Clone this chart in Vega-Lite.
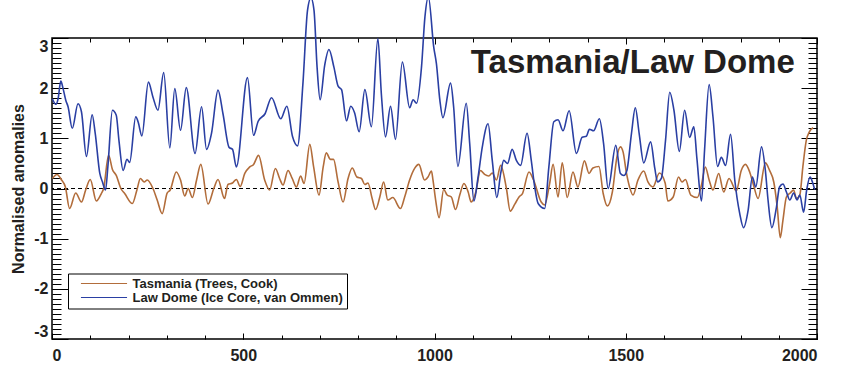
{
"$schema":"https://vega.github.io/schema/vega-lite/v6.json",
"width":765,"height":301,
"autosize":{"type":"none"},
"padding":{"left":52,"top":38,"right":28,"bottom":27},
"datasets":{
"one":[{"k":1}],
"tas":[{"year":1,"value":0.2},{"year":13,"value":0.28},{"year":25,"value":0.17},{"year":35,"value":0.03},{"year":46,"value":-0.4},{"year":62,"value":-0.09},{"year":77,"value":-0.27},{"year":88,"value":-0.03},{"year":100,"value":0.18},{"year":116,"value":-0.25},{"year":129,"value":-0.1},{"year":135,"value":0.0},{"year":148,"value":0.66},{"year":158,"value":0.38},{"year":168,"value":0.26},{"year":180,"value":0.0},{"year":190,"value":-0.1},{"year":210,"value":-0.3},{"year":222,"value":-0.03},{"year":231,"value":0.2},{"year":241,"value":0.13},{"year":249,"value":0.17},{"year":264,"value":0.0},{"year":275,"value":-0.23},{"year":288,"value":-0.5},{"year":301,"value":-0.09},{"year":309,"value":-0.03},{"year":325,"value":0.33},{"year":336,"value":0.17},{"year":347,"value":-0.15},{"year":356,"value":0.0},{"year":367,"value":-0.18},{"year":378,"value":0.17},{"year":389,"value":0.48},{"year":408,"value":-0.31},{"year":423,"value":0.0},{"year":434,"value":0.18},{"year":451,"value":-0.2},{"year":460,"value":0.08},{"year":472,"value":0.11},{"year":482,"value":0.18},{"year":492,"value":0.04},{"year":504,"value":0.3},{"year":517,"value":0.43},{"year":527,"value":0.48},{"year":540,"value":0.66},{"year":556,"value":0.17},{"year":569,"value":-0.03},{"year":584,"value":0.4},{"year":595,"value":0.2},{"year":604,"value":0.07},{"year":617,"value":0.36},{"year":628,"value":0.2},{"year":639,"value":0.03},{"year":650,"value":0.25},{"year":659,"value":0.1},{"year":674,"value":0.88},{"year":684,"value":0.43},{"year":698,"value":-0.13},{"year":709,"value":0.43},{"year":717,"value":0.71},{"year":728,"value":0.58},{"year":736,"value":0.58},{"year":748,"value":0.13},{"year":761,"value":-0.27},{"year":774,"value":0.2},{"year":785,"value":0.41},{"year":797,"value":0.23},{"year":809,"value":0.2},{"year":818,"value":0.08},{"year":826,"value":0.11},{"year":837,"value":-0.2},{"year":846,"value":-0.42},{"year":857,"value":-0.17},{"year":867,"value":0.13},{"year":878,"value":-0.23},{"year":891,"value":-0.18},{"year":911,"value":-0.4},{"year":922,"value":-0.17},{"year":935,"value":0.17},{"year":948,"value":0.4},{"year":959,"value":0.48},{"year":974,"value":0.17},{"year":983,"value":0.23},{"year":992,"value":0.35},{"year":996,"value":0.17},{"year":1003,"value":-0.23},{"year":1012,"value":-0.58},{"year":1024,"value":-0.02},{"year":1033,"value":-0.13},{"year":1044,"value":-0.17},{"year":1055,"value":-0.42},{"year":1066,"value":-0.13},{"year":1077,"value":0.1},{"year":1088,"value":-0.07},{"year":1096,"value":-0.27},{"year":1108,"value":-0.07},{"year":1120,"value":0.36},{"year":1131,"value":0.28},{"year":1142,"value":0.25},{"year":1151,"value":0.31},{"year":1162,"value":0.17},{"year":1173,"value":0.46},{"year":1188,"value":0.0},{"year":1198,"value":-0.45},{"year":1210,"value":-0.31},{"year":1221,"value":-0.17},{"year":1230,"value":-0.1},{"year":1247,"value":0.33},{"year":1259,"value":0.17},{"year":1279,"value":-0.27},{"year":1288,"value":-0.33},{"year":1301,"value":0.1},{"year":1310,"value":0.48},{"year":1323,"value":-0.17},{"year":1334,"value":0.51},{"year":1347,"value":-0.18},{"year":1362,"value":0.33},{"year":1375,"value":0.03},{"year":1392,"value":0.55},{"year":1404,"value":0.3},{"year":1414,"value":0.41},{"year":1430,"value":0.44},{"year":1441,"value":-0.1},{"year":1452,"value":-0.35},{"year":1465,"value":-0.07},{"year":1477,"value":0.63},{"year":1486,"value":0.83},{"year":1493,"value":0.73},{"year":1502,"value":0.3},{"year":1510,"value":0.03},{"year":1519,"value":-0.13},{"year":1532,"value":0.17},{"year":1547,"value":0.35},{"year":1558,"value":0.13},{"year":1571,"value":0.03},{"year":1588,"value":0.31},{"year":1603,"value":0.11},{"year":1610,"value":-0.25},{"year":1624,"value":-0.17},{"year":1638,"value":0.23},{"year":1647,"value":0.13},{"year":1656,"value":0.18},{"year":1670,"value":-0.13},{"year":1687,"value":-0.18},{"year":1698,"value":0.07},{"year":1708,"value":0.43},{"year":1718,"value":0.17},{"year":1728,"value":-0.03},{"year":1743,"value":0.3},{"year":1756,"value":-0.07},{"year":1770,"value":0.2},{"year":1789,"value":-0.05},{"year":1802,"value":0.36},{"year":1813,"value":0.48},{"year":1824,"value":0.33},{"year":1834,"value":0.07},{"year":1846,"value":-0.2},{"year":1865,"value":0.51},{"year":1876,"value":0.36},{"year":1887,"value":0.13},{"year":1896,"value":-0.37},{"year":1904,"value":-0.98},{"year":1911,"value":-0.63},{"year":1920,"value":-0.17},{"year":1930,"value":-0.09},{"year":1939,"value":-0.03},{"year":1946,"value":-0.2},{"year":1955,"value":-0.13},{"year":1963,"value":0.43},{"year":1972,"value":0.96},{"year":1980,"value":1.13},{"year":1990,"value":1.21}],
"law":[{"year":1,"value":1.79},{"year":10,"value":1.68},{"year":16,"value":1.79},{"year":23,"value":2.14},{"year":29,"value":1.99},{"year":36,"value":1.76},{"year":42,"value":1.63},{"year":53,"value":1.2},{"year":68,"value":1.69},{"year":77,"value":1.53},{"year":90,"value":0.64},{"year":105,"value":1.47},{"year":113,"value":1.1},{"year":125,"value":0.3},{"year":132,"value":0.13},{"year":140,"value":-0.03},{"year":146,"value":0.43},{"year":158,"value":1.56},{"year":168,"value":1.46},{"year":175,"value":0.96},{"year":186,"value":0.36},{"year":196,"value":0.58},{"year":203,"value":0.52},{"year":219,"value":1.43},{"year":225,"value":1.33},{"year":235,"value":1.05},{"year":252,"value":2.12},{"year":264,"value":1.82},{"year":277,"value":1.56},{"year":292,"value":2.31},{"year":308,"value":0.81},{"year":321,"value":1.99},{"year":336,"value":1.16},{"year":351,"value":2.01},{"year":374,"value":0.7},{"year":391,"value":1.63},{"year":404,"value":0.78},{"year":417,"value":1.1},{"year":434,"value":1.96},{"year":447,"value":1.49},{"year":463,"value":0.82},{"year":472,"value":0.78},{"year":482,"value":0.43},{"year":511,"value":2.21},{"year":527,"value":1.06},{"year":539,"value":1.34},{"year":557,"value":1.49},{"year":574,"value":1.81},{"year":598,"value":1.39},{"year":614,"value":1.64},{"year":629,"value":1.03},{"year":642,"value":0.85},{"year":656,"value":2.09},{"year":668,"value":3.55},{"year":677,"value":3.8},{"year":685,"value":3.55},{"year":693,"value":2.42},{"year":701,"value":1.77},{"year":713,"value":2.46},{"year":724,"value":2.77},{"year":737,"value":2.42},{"year":748,"value":2.04},{"year":757,"value":1.97},{"year":770,"value":1.35},{"year":781,"value":1.64},{"year":791,"value":1.51},{"year":803,"value":1.13},{"year":818,"value":1.97},{"year":835,"value":1.23},{"year":852,"value":2.99},{"year":861,"value":1.89},{"year":872,"value":1.03},{"year":885,"value":1.64},{"year":898,"value":0.98},{"year":916,"value":2.52},{"year":935,"value":1.61},{"year":944,"value":1.77},{"year":953,"value":1.7},{"year":966,"value":2.42},{"year":975,"value":3.42},{"year":984,"value":3.82},{"year":998,"value":2.82},{"year":1005,"value":2.49},{"year":1014,"value":1.76},{"year":1022,"value":1.41},{"year":1042,"value":2.1},{"year":1050,"value":1.63},{"year":1061,"value":0.44},{"year":1083,"value":1.7},{"year":1092,"value":0.9},{"year":1103,"value":-0.25},{"year":1114,"value":0.23},{"year":1125,"value":0.83},{"year":1140,"value":1.29},{"year":1151,"value":0.56},{"year":1163,"value":-0.18},{"year":1173,"value":0.3},{"year":1181,"value":0.56},{"year":1191,"value":0.5},{"year":1203,"value":0.78},{"year":1214,"value":0.56},{"year":1225,"value":0.46},{"year":1242,"value":1.1},{"year":1253,"value":0.56},{"year":1262,"value":0.03},{"year":1271,"value":-0.3},{"year":1288,"value":-0.4},{"year":1299,"value":0.43},{"year":1312,"value":1.33},{"year":1323,"value":1.37},{"year":1336,"value":1.15},{"year":1352,"value":1.55},{"year":1371,"value":0.7},{"year":1386,"value":1.02},{"year":1397,"value":1.04},{"year":1405,"value":1.18},{"year":1416,"value":1.15},{"year":1431,"value":1.39},{"year":1442,"value":0.9},{"year":1454,"value":0.0},{"year":1474,"value":0.86},{"year":1486,"value":0.3},{"year":1495,"value":0.26},{"year":1503,"value":0.36},{"year":1515,"value":1.1},{"year":1525,"value":1.61},{"year":1535,"value":1.1},{"year":1547,"value":0.51},{"year":1565,"value":0.93},{"year":1576,"value":0.4},{"year":1583,"value":0.13},{"year":1593,"value":0.2},{"year":1604,"value":0.96},{"year":1615,"value":1.92},{"year":1626,"value":1.56},{"year":1640,"value":0.74},{"year":1654,"value":1.56},{"year":1667,"value":1.02},{"year":1678,"value":1.23},{"year":1686,"value":0.6},{"year":1698,"value":-0.25},{"year":1706,"value":0.76},{"year":1718,"value":2.07},{"year":1728,"value":1.43},{"year":1740,"value":0.44},{"year":1750,"value":0.62},{"year":1761,"value":0.46},{"year":1774,"value":1.08},{"year":1785,"value":0.17},{"year":1798,"value":-0.5},{"year":1808,"value":-0.78},{"year":1820,"value":-0.43},{"year":1831,"value":0.23},{"year":1840,"value":0.03},{"year":1855,"value":0.83},{"year":1865,"value":0.36},{"year":1872,"value":-0.23},{"year":1882,"value":-0.78},{"year":1894,"value":-0.37},{"year":1902,"value":0.03},{"year":1911,"value":0.09},{"year":1920,"value":-0.07},{"year":1929,"value":-0.23},{"year":1939,"value":-0.09},{"year":1948,"value":-0.23},{"year":1955,"value":-0.13},{"year":1965,"value":-0.47},{"year":1973,"value":-0.03},{"year":1982,"value":0.23},{"year":1988,"value":0.13},{"year":1994,"value":-0.02}]
},
"layer":[
{"data":{"name":"one"},"mark":{"type":"rule","strokeDash":[4,3],"strokeWidth":1,"color":"#000"},
 "encoding":{"y":{"datum":0,"type":"quantitative","scale":{"domain":[-3,3],"nice":false,"zero":false},"axis":null}}},
{"data":{"name":"tas"},"mark":{"type":"line","interpolate":"monotone","strokeWidth":1.6},
 "encoding":{
  "x":{"field":"year","type":"quantitative","scale":{"domain":[0,2000],"nice":false,"zero":false},
   "axis":{"orient":"bottom","values":[0,500,1000,1500,2000],"format":"d","ticks":false,"labelFontSize":16,"labelPadding":8,"title":"Year A.D.","titleFontSize":16,"titlePadding":1}},
  "y":{"field":"value","type":"quantitative","scale":{"domain":[-3,3],"nice":false,"zero":false},
   "axis":{"orient":"left","values":[-3,-2,-1,0,1,2,3],"labelExpr":"datum.value < 0 ? '-' + abs(datum.value) : '' + datum.value","ticks":false,"labelFlush":true,"labelFontSize":16,"labelPadding":4,"title":"Normalised anomalies","titleFontSize":16,"titlePadding":7}},
  "color":{"datum":"Tasmania (Trees, Cook)","type":"nominal","scale":{"domain":["Tasmania (Trees, Cook)","Law Dome (Ice Core, van Ommen)"],"range":["#b26d3b","#2a3fa3"]},
   "legend":{"orient":"none","legendX":16,"legendY":235.5,"title":null,"symbolType":"M-5,0H5","symbolSize":85,"symbolStrokeWidth":1.2,"labelFont":"Liberation Sans","labelFontSize":13,"labelFontWeight":"bold","labelColor":"#231f20","labelLimit":0,"strokeColor":"#000","fillColor":"#fff","padding":3.5,"rowPadding":0,"symbolOffset":26,"labelOffset":22}}}},
{"data":{"name":"law"},"mark":{"type":"line","interpolate":"monotone","strokeWidth":1.6},
 "encoding":{
  "x":{"field":"year","type":"quantitative","axis":{"orient":"bottom","values":[0,500,1000,1500,2000],"labels":false,"tickSize":-6,"title":null}},
  "y":{"field":"value","type":"quantitative","axis":{"orient":"left","values":[-3,-2,-1,0,1,2,3],"labels":false,"tickSize":-16,"title":null}},
  "color":{"datum":"Law Dome (Ice Core, van Ommen)","type":"nominal"}}},
{"data":{"name":"law"},"mark":{"type":"line","opacity":0},
 "encoding":{
  "x":{"field":"year","type":"quantitative","axis":{"orient":"bottom","values":[0,100,200,300,400,500,600,700,800,900,1000,1100,1200,1300,1400,1500,1600,1700,1800,1900,2000],"labels":false,"tickSize":-4,"title":null}},
  "y":{"field":"value","type":"quantitative","axis":{"orient":"left","values":[-3,-2.9,-2.8,-2.7,-2.6,-2.5,-2.4,-2.3,-2.2,-2.1,-2,-1.9,-1.8,-1.7,-1.6,-1.5,-1.4,-1.3,-1.2,-1.1,-1,-0.9,-0.8,-0.7,-0.6,-0.5,-0.4,-0.3,-0.2,-0.1,0,0.1,0.2,0.3,0.4,0.5,0.6,0.7,0.8,0.9,1,1.1,1.2,1.3,1.4,1.5,1.6,1.7,1.8,1.9,2,2.1,2.2,2.3,2.4,2.5,2.6,2.7,2.8,2.9,3],"labels":false,"tickSize":-9,"title":null}}}},
{"data":{"name":"law"},"mark":{"type":"line","opacity":0},
 "encoding":{
  "x":{"field":"year","type":"quantitative","axis":{"orient":"top","values":[0,500,1000,1500,2000],"labels":false,"tickSize":-6,"title":null}},
  "y":{"field":"value","type":"quantitative","axis":{"orient":"right","values":[-3,-2,-1,0,1,2,3],"labels":false,"tickSize":-16,"title":null}}}},
{"data":{"name":"law"},"mark":{"type":"line","opacity":0},
 "encoding":{
  "x":{"field":"year","type":"quantitative","axis":{"orient":"top","values":[0,100,200,300,400,500,600,700,800,900,1000,1100,1200,1300,1400,1500,1600,1700,1800,1900,2000],"labels":false,"tickSize":-4,"title":null}},
  "y":{"field":"value","type":"quantitative","axis":{"orient":"right","values":[-3,-2.9,-2.8,-2.7,-2.6,-2.5,-2.4,-2.3,-2.2,-2.1,-2,-1.9,-1.8,-1.7,-1.6,-1.5,-1.4,-1.3,-1.2,-1.1,-1,-0.9,-0.8,-0.7,-0.6,-0.5,-0.4,-0.3,-0.2,-0.1,0,0.1,0.2,0.3,0.4,0.5,0.6,0.7,0.8,0.9,1,1.1,1.2,1.3,1.4,1.5,1.6,1.7,1.8,1.9,2,2.1,2.2,2.3,2.4,2.5,2.6,2.7,2.8,2.9,3],"labels":false,"tickSize":-9,"title":null}}}},
{"data":{"name":"one"},"mark":{"type":"text","text":"Tasmania/Law Dome","align":"right","baseline":"alphabetic","fontSize":33,"font":"Liberation Sans","fontWeight":"bold","color":"#231f20"},
 "encoding":{"x":{"datum":1942,"type":"quantitative","axis":null},"y":{"datum":2.3,"type":"quantitative","axis":null}}}
],
"resolve":{"axis":{"x":"independent","y":"independent"}},
"config":{
 "font":"Liberation Sans",
 "view":{"stroke":"#000","strokeWidth":1.5},
 "axis":{"labelFont":"Liberation Sans","labelFontWeight":"bold","labelColor":"#231f20","tickColor":"#000","tickWidth":1,"grid":false,"domain":false,"titleFont":"Liberation Sans","titleFontWeight":"bold","titleColor":"#231f20"}
}
}
